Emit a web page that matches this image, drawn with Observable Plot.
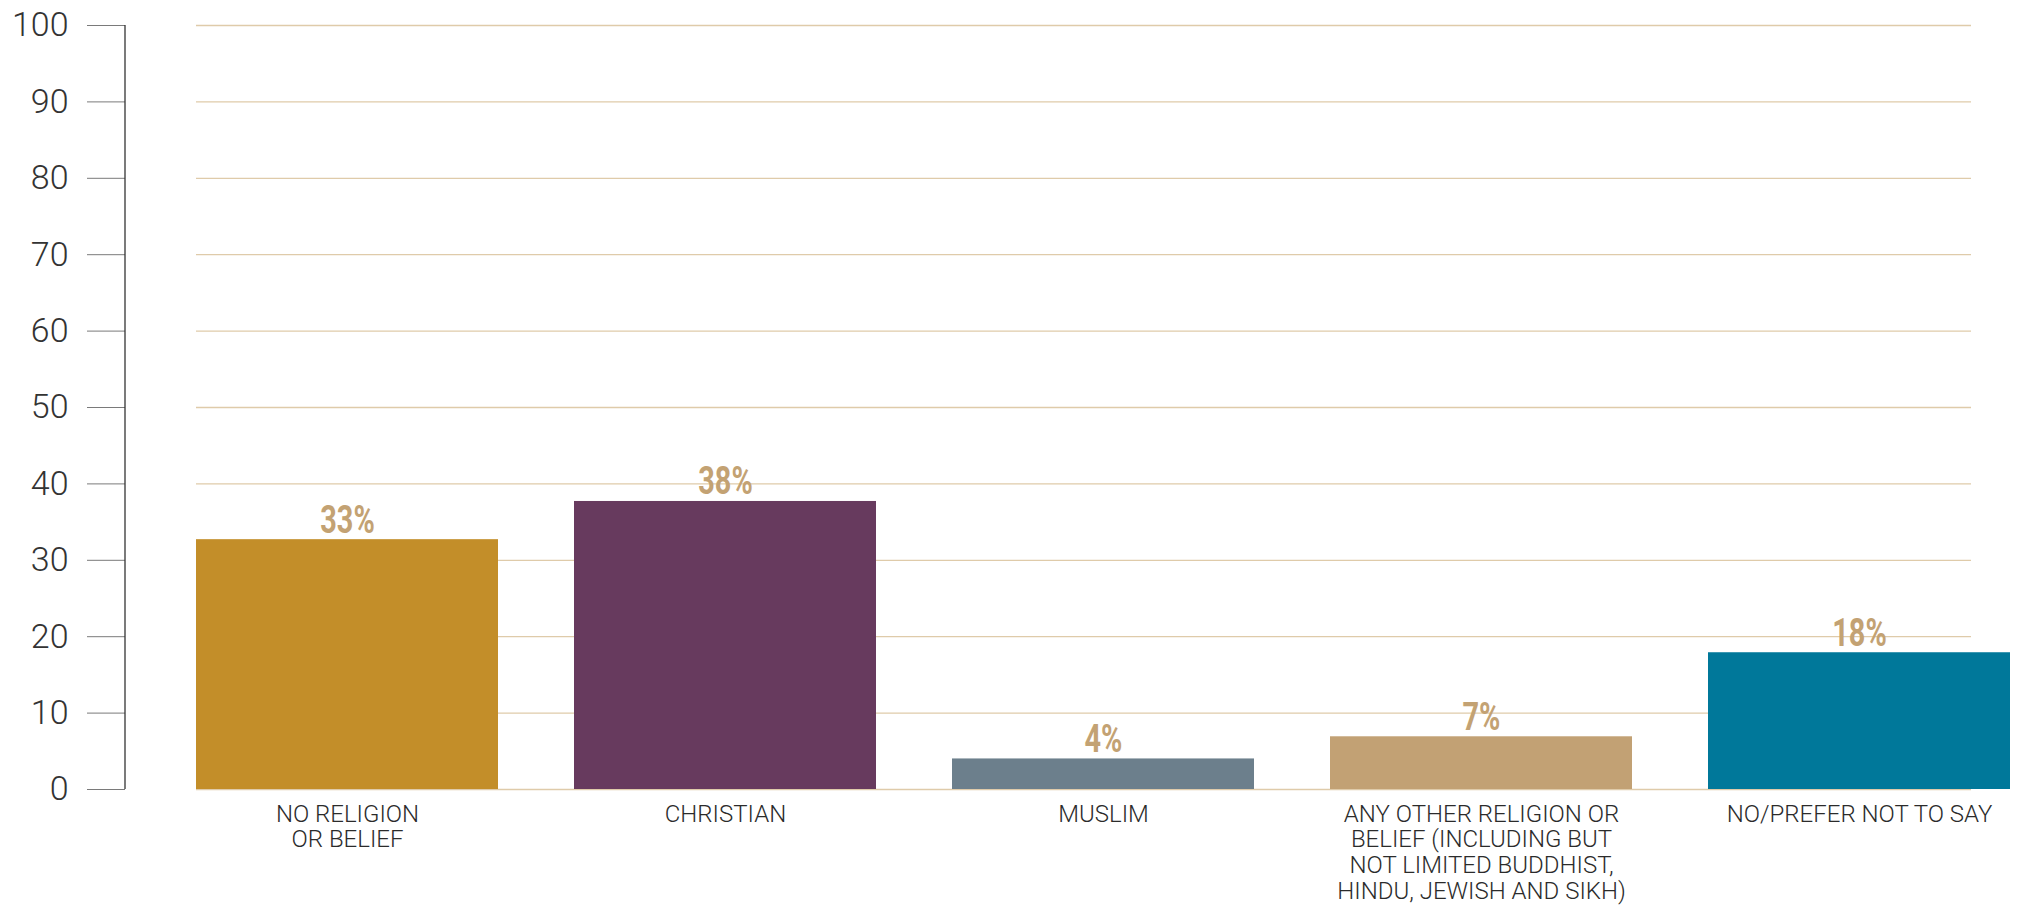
<!DOCTYPE html>
<html><head><meta charset="utf-8">
<script src="https://cdn.jsdelivr.net/npm/d3@7"></script>
<script src="https://cdn.jsdelivr.net/npm/@observablehq/plot@0.6"></script>
<style>body{margin:0;background:#fff}</style>
</head><body><div id="chart"></div>
<script>
const categories = ["No religion or belief", "Christian", "Muslim", "Any other religion or belief", "No/prefer not to say"];
const tickLabels = ["NO RELIGION\nOR BELIEF", "CHRISTIAN", "MUSLIM", "ANY OTHER RELIGION OR\nBELIEF (INCLUDING BUT\nNOT LIMITED BUDDHIST,\nHINDU, JEWISH AND SIKH)", "NO/PREFER NOT TO SAY"];
const values = [32.7, 37.7, 4.0, 6.9, 17.9];
const valueLabels = ["33%", "38%", "4%", "7%", "18%"];
const colors = ["#c38e29", "#673a5e", "#6c7f8c", "#c2a174", "#00789a"];
const yTicks = [0, 10, 20, 30, 40, 50, 60, 70, 80, 90, 100];

const data = categories.map((c, i) => ({category: c, value: values[i], label: valueLabels[i]}));
const marginLeft = 125;

const chart = Plot.plot({
  width: 2019,
  height: 907,
  marginTop: 25,
  marginBottom: 118,
  marginLeft,
  marginRight: 8,
  style: {fontFamily: "Roboto, sans-serif", background: "white"},
  x: {domain: categories, insetLeft: 71, paddingInner: 0.2, paddingOuter: 0, label: null},
  y: {domain: [0, 100], label: null},
  color: {domain: categories, range: colors},
  marks: [
    Plot.ruleY(yTicks, {stroke: "#dfcbaa", strokeWidth: 1.3, insetLeft: 71, insetRight: 40}),
    Plot.barY(data, {x: "category", y: "value", fill: "category"}),
    Plot.text(data, {x: "category", y: "value", text: "label", lineAnchor: "bottom", dy: -7,
      fill: "#c3a273", fontSize: 38, fontWeight: "bold", className: "vlabel",
      fontFamily: "Roboto, sans-serif"}),
    Plot.axisY({ticks: yTicks, tickSize: 38, tickPadding: 19, stroke: "#7a7a7a", fill: "#333",
      fontSize: 34, fontWeight: 300, label: null}),
    Plot.axisX({tickSize: 0, tickPadding: 14, tickFormat: d => tickLabels[categories.indexOf(d)],
      fontSize: 24, fontWeight: 300, lineHeight: 1.07, fill: "#2b2b2b", label: null})
  ]
});

// condense the value labels horizontally (narrow display face in the original)
d3.select(chart).selectAll(".vlabel text").each(function() {
  const t = this.getAttribute("transform") || "";
  this.setAttribute("transform", t + " scale(0.76,1)");
});

const y = chart.scale("y");
d3.select(chart).append("line")
  .attr("x1", marginLeft).attr("x2", marginLeft)
  .attr("y1", y.apply(0)).attr("y2", y.apply(100))
  .attr("stroke", "#333").attr("stroke-width", 1.3);

document.getElementById("chart").appendChild(chart);
</script>
</body></html>
